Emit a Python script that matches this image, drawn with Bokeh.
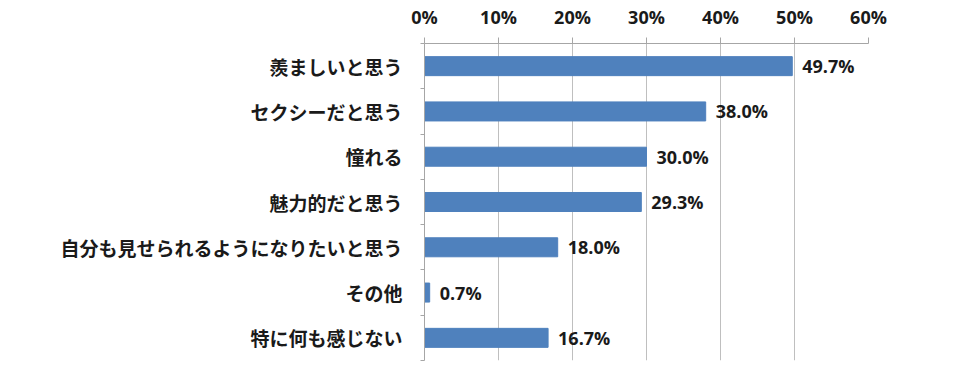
from bokeh.plotting import figure
from bokeh.models import ColumnDataSource, FixedTicker, Range1d, NumeralTickFormatter, LabelSet
from bokeh.core.properties import value
from bokeh.embed import file_html
from bokeh.resources import INLINE

categories = ["羨ましいと思う", "セクシーだと思う", "憧れる", "魅力的だと思う",
              "自分も見せられるようになりたいと思う", "その他", "特に何も感じない"]
values = [49.7, 38.0, 30.0, 29.3, 18.0, 0.7, 16.7]
x_ticks = [0, 10, 20, 30, 40, 50, 60]

n = len(categories)
ypos = [n - 0.5 - i for i in range(n)]
src = ColumnDataSource(dict(y=ypos, v=[x / 100 for x in values],
                            lab=[f"{x:.1f}%" for x in values], cat=categories))

p = figure(width=943, height=369, output_backend="svg", toolbar_location=None,
           x_range=Range1d(0, 0.6), y_range=Range1d(0, n),
           x_axis_location="above", min_border_left=424, min_border_right=75,
           min_border_top=43, min_border_bottom=9)
p.outline_line_color = None
p.background_fill_color = "white"

p.hbar(y="y", right="v", left=0, height=0.42, source=src, color="#4F81BD")

labels = LabelSet(x="v", y="y", text="lab", source=src, x_offset=10,
                  text_baseline="middle", text_font=value("Open Sans"), text_font_style="bold",
                  text_font_size="18px", text_color="#1a1a1a")
p.add_layout(labels)

xa = p.xaxis[0]
xa.ticker = FixedTicker(ticks=[t / 100 for t in x_ticks])
xa.formatter = NumeralTickFormatter(format="0%")
xa.major_tick_out = 6
xa.major_tick_in = 0
xa.minor_tick_line_color = None
xa.axis_line_color = "#A6A6A6"
xa.major_tick_line_color = "#A6A6A6"
xa.major_label_text_font = "Open Sans"
xa.major_label_text_font_style = "bold"
xa.major_label_text_font_size = "18px"
xa.major_label_text_color = "#1a1a1a"
xa.major_label_standoff = 9

ya = p.yaxis[0]
ya.ticker = FixedTicker(ticks=ypos, minor_ticks=list(range(n + 1)))
ya.major_label_overrides = {y: c for y, c in zip(ypos, categories)}
ya.major_tick_line_color = None
ya.minor_tick_out = 4
ya.minor_tick_in = 0
ya.minor_tick_line_color = "#A6A6A6"
ya.axis_line_color = "#A6A6A6"
ya.major_label_text_font = "Noto Sans CJK JP"
ya.major_label_text_font_style = "bold"
ya.major_label_text_font_size = "19px"
ya.major_label_text_color = "#1a1a1a"
ya.major_label_standoff = 16

p.xgrid.ticker = FixedTicker(ticks=[t / 100 for t in x_ticks])
p.xgrid.grid_line_color = "#BFBFBF"
p.ygrid.grid_line_color = None

open("out.html", "w").write(file_html(p, INLINE))
